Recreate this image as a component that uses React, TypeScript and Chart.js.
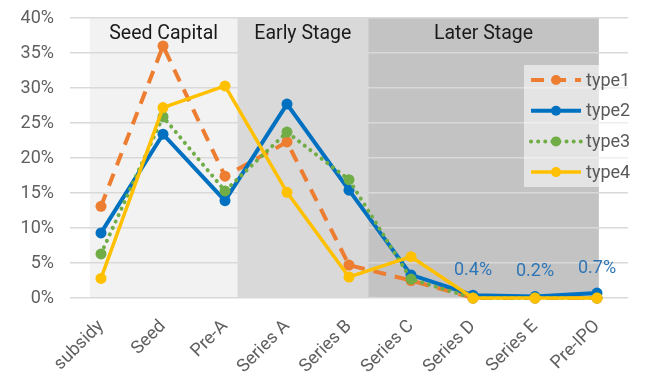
import React, { useEffect, useRef } from "react";
import { Chart, registerables } from "chart.js";

Chart.register(...registerables);

const categories = ["subsidy", "Seed", "Pre-A", "Series A", "Series B", "Series C", "Series D", "Series E", "Pre-IPO"];
const type1 = [13.1, 36.0, 17.4, 22.3, 4.7, 2.5, 0, 0, 0];
const type2 = [9.3, 23.4, 13.9, 27.7, 15.4, 3.3, 0.4, 0.2, 0.7];
const type3 = [6.3, 25.9, 15.3, 23.7, 16.9, 2.7, 0, 0, 0];
const type4 = [2.8, 27.2, 30.3, 15.1, 3.0, 5.9, 0, 0, 0];
const yTicks = [0, 5, 10, 15, 20, 25, 30, 35, 40];
const stageNames = ["Seed Capital", "Early Stage", "Later Stage"];
const stageFrom = [-0.18, 2.2, 4.31];
const stageTo = [2.2, 4.31, 8.03];
const stageColors = ["#f2f2f2", "#d9d9d9", "#c3c3c3"];
const labelledPoints = [6, 7, 8];

const FONT = "Roboto, 'Noto Sans', sans-serif";

export default function App() {
  const ref = useRef<HTMLCanvasElement | null>(null);
  useEffect(() => {
    if (!ref.current) return;
    const bandPlugin = {
      id: "bands",
      beforeDraw(chart: any) {
        const { ctx, chartArea, scales } = chart;
        const x = scales.x;
        const x0 = x.getPixelForValue(0);
        const step = x.getPixelForValue(1) - x0;
        ctx.save();
        stageNames.forEach((name, i) => {
          const a = x0 + stageFrom[i] * step;
          const b = x0 + stageTo[i] * step;
          ctx.fillStyle = stageColors[i];
          ctx.fillRect(a, chartArea.top, b - a, chartArea.bottom - chartArea.top);
          ctx.fillStyle = "#1a1a1a";
          ctx.font = `19.5px ${FONT}`;
          ctx.textAlign = "center";
          ctx.textBaseline = "middle";
          ctx.fillText(name, (a + b) / 2, chartArea.top + 16.5);
        });
        ctx.restore();
      },
      afterDatasetsDraw(chart: any) {
        const { ctx, chartArea } = chart;
        ctx.save();
        const meta = chart.getDatasetMeta(1);
        ctx.fillStyle = "#2E75B6";
        ctx.font = `18px ${FONT}`;
        ctx.textAlign = "center";
        ctx.textBaseline = "middle";
        labelledPoints.forEach((i) => {
          const p = meta.data[i];
          ctx.fillText(type2[i].toFixed(1) + "%", p.x, p.y - 25);
        });
        const lx = chartArea.right - 104;
        const ly = chartArea.top + 47;
        ctx.fillStyle = "rgba(255,255,255,0.55)";
        ctx.fillRect(lx, ly, 116, 122);
        const ds = chart.data.datasets;
        ds.forEach((d: any, i: number) => {
          const cy = ly + 15 + i * 30.7;
          ctx.save();
          ctx.strokeStyle = d.borderColor;
          ctx.lineWidth = d.borderWidth;
          ctx.lineCap = d.borderCapStyle || "butt";
          ctx.setLineDash(d.borderDash || []);
          ctx.beginPath();
          ctx.moveTo(lx + 7, cy);
          ctx.lineTo(lx + 57, cy);
          ctx.stroke();
          ctx.setLineDash([]);
          ctx.fillStyle = d.borderColor;
          ctx.beginPath();
          ctx.arc(lx + 32, cy, 5, 0, Math.PI * 2);
          ctx.fill();
          ctx.fillStyle = "#595959";
          ctx.font = `18px ${FONT}`;
          ctx.textAlign = "left";
          ctx.textBaseline = "middle";
          ctx.fillText(d.label, lx + 62, cy + 1);
          ctx.restore();
        });
        ctx.restore();
      },
    };

    const mk = (label: string, data: number[], color: string, extra: any, order: number) => ({
      label,
      data,
      borderColor: color,
      backgroundColor: color,
      pointBackgroundColor: color,
      pointBorderColor: color,
      pointBorderWidth: 0,
      pointRadius: 5.5,
      pointHoverRadius: 5.5,
      borderWidth: 4,
      tension: 0,
      clip: false,
      order,
      ...extra,
    });

    const chart = new Chart(ref.current, {
      type: "line",
      data: {
        labels: categories,
        datasets: [
          mk("type1", type1, "#ED7D31", { borderDash: [13, 9] }, 4),
          mk("type2", type2, "#0070C0", {}, 3),
          mk("type3", type3, "#70AD47", { borderDash: [0.1, 7], borderCapStyle: "round", borderWidth: 4 }, 2),
          mk("type4", type4, "#FFC000", { borderWidth: 3.5 }, 1),
        ],
      },
      options: {
        animation: false,
        responsive: true,
        maintainAspectRatio: false,
        layout: { padding: { top: 18, right: 21, left: 0, bottom: 0 } },
        plugins: { legend: { display: false }, tooltip: { enabled: false } },
        scales: {
          x: {
            offset: true,
            grid: { display: false },
            border: { display: false },
            ticks: {
              color: "#5f5f5f",
              font: { family: FONT, size: 18 },
              minRotation: 45,
              maxRotation: 45,
              padding: 10,
              autoSkip: false,
            },
            afterFit: (s: any) => {
              s.height = 83;
              s.paddingLeft = 0;
              s.paddingRight = 0;
            },
          },
          y: {
            min: 0,
            max: 40,
            afterBuildTicks: (s: any) => {
              s.ticks = yTicks.map((v) => ({ value: v }));
            },
            grid: { color: "#d9d9d9", lineWidth: 1.5, drawTicks: false },
            border: { display: false },
            ticks: {
              color: "#5f5f5f",
              font: { family: FONT, size: 18 },
              padding: 16,
              callback: (v: any) => v + "%",
            },
            afterFit: (s: any) => {
              s.width = 70;
              s.paddingTop = 0;
              s.paddingBottom = 0;
            },
          },
        },
      },
      plugins: [bandPlugin],
    });
    return () => chart.destroy();
  }, []);
  return (
    <div style={{ position: "absolute", left: 0, top: 0, width: 649, height: 381, background: "#fff" }}>
      <canvas ref={ref} />
    </div>
  );
}
